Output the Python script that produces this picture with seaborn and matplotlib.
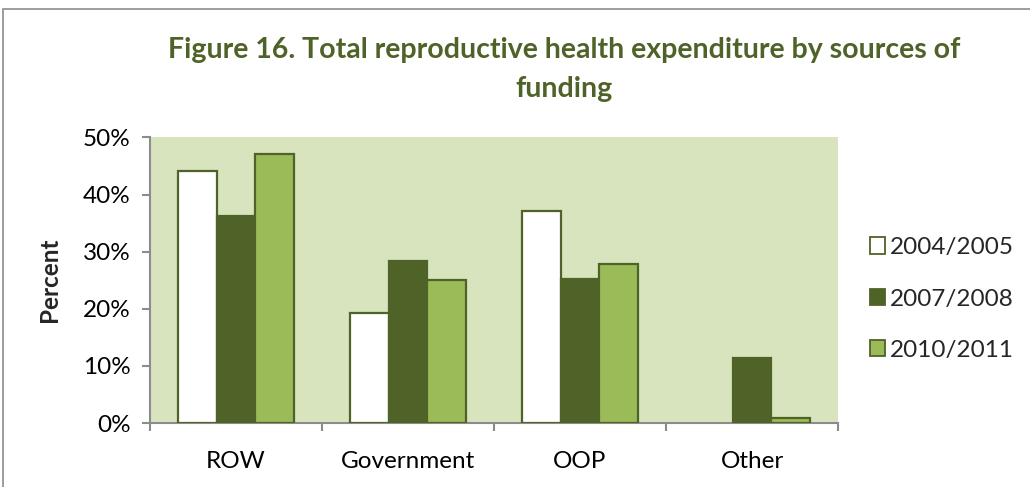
import numpy as np
import pandas as pd
import matplotlib
matplotlib.use("Agg")
import matplotlib.pyplot as plt
import matplotlib.patches as mpatches
from matplotlib.ticker import FuncFormatter, FixedLocator
import seaborn as sns

categories = ["ROW", "Government", "OOP", "Other"]
years = ["2004/2005", "2007/2008", "2010/2011"]
val_2004 = [44.2, 19.2, 37.2, 0.0]
val_2007 = [36.2, 28.3, 25.2, 11.3]
val_2010 = [47.1, 25.0, 27.8, 0.9]

fills = ["#FFFFFF", "#4F6228", "#9BBB59"]
edge = "#4F6228"
bg = "#D8E4BD"

rows = []
for yr, vals in zip(years, [val_2004, val_2007, val_2010]):
    for c, v in zip(categories, vals):
        rows.append({"Source": c, "Year": yr, "Value": v})
df = pd.DataFrame(rows)

sns.set_style("white")
plt.rcParams["font.family"] = ["Lato", "DejaVu Sans"]

fig = plt.figure(figsize=(10.3, 4.87), dpi=100)
ax = fig.add_axes([0.1456, 0.1314, 0.668, 0.5863])
ax.set_facecolor(bg)

sns.barplot(data=df, x="Source", y="Value", hue="Year", order=categories,
            hue_order=years, palette=fills, saturation=1, width=0.67, gap=0,
            edgecolor=edge, linewidth=1.6, ax=ax, legend=False, zorder=3)

# no visible bar for zero values
for bar in ax.patches:
    if bar.get_height() == 0:
        bar.set_visible(False)

ax.set_ylim(0, 50)
ax.set_xlim(-0.5, 3.5)
ax.yaxis.set_major_locator(FixedLocator([0, 10, 20, 30, 40, 50]))
ax.yaxis.set_major_formatter(FuncFormatter(lambda v, p: f"{int(v)}%"))

for s in ["top", "right"]:
    ax.spines[s].set_visible(False)
for s in ["left", "bottom"]:
    ax.spines[s].set_color("#8C8C8C")
    ax.spines[s].set_linewidth(1.5)

ax.tick_params(axis="y", which="major", length=6, width=1.5, color="#8C8C8C",
               direction="out", left=True, pad=8, labelsize=17.5, labelcolor="black")
ax.xaxis.set_minor_locator(FixedLocator([-0.5, 0.5, 1.5, 2.5, 3.5]))
ax.tick_params(axis="x", which="minor", length=6, width=1.5, color="#8C8C8C",
               direction="out", bottom=True)
ax.tick_params(axis="x", which="major", length=0, pad=20, labelsize=17.5,
               labelcolor="black")

ax.set_xlabel("")
ax.set_ylabel("Percent", fontsize=17.5, fontweight="bold", labelpad=16)

fig.text(0.548, 0.898, "Figure 16. Total reproductive health expenditure by sources of",
         ha="center", va="center", fontsize=20.5, fontweight="bold", color=edge)
fig.text(0.548, 0.818, "funding", ha="center", va="center", fontsize=20.5,
         fontweight="bold", color=edge)

handles = [mpatches.Patch(facecolor=f, edgecolor=edge, linewidth=1.3, label=y)
           for f, y in zip(fills, years)]
fig.legend(handles=handles, loc="center left", bbox_to_anchor=(0.823, 0.386),
           frameon=False, fontsize=17.5, handlelength=0.65, handleheight=0.65,
           handletextpad=0.2, labelspacing=1.25)

border = mpatches.Rectangle((0.003, -0.05), 1.2, 1.0315, transform=fig.transFigure,
                            fill=False, edgecolor="#8C8C8C", linewidth=1.2)
fig.patches.append(border)

fig.savefig("out.png", dpi=100, facecolor="white")
